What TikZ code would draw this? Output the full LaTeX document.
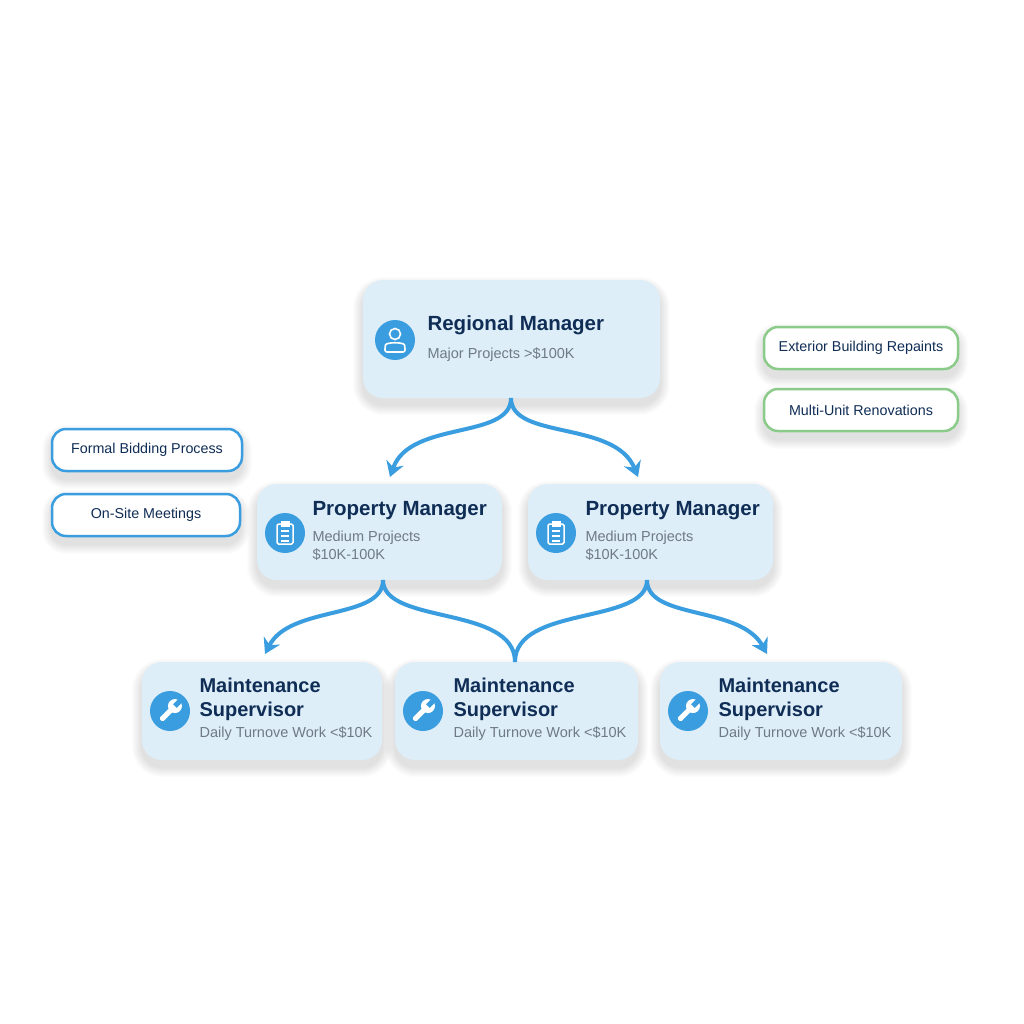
\documentclass[tikz,border=0pt]{standalone}
\usepackage{fontspec}
\setmainfont{Liberation Sans}
\usetikzlibrary{arrows.meta}
\definecolor{boxfill}{HTML}{DDEEF9}
\definecolor{navy}{HTML}{0F2D55}
\definecolor{subgray}{HTML}{6F7A86}
\definecolor{blu}{HTML}{3A9DDF}
\definecolor{grn}{HTML}{8ACB8A}
\newcommand\mysh[5]{% x1,y1,x2,y2,radius
 \foreach \i in {1,...,10}{
  \fill[black,opacity=0.012,rounded corners=#5+\i] (#1-\i,#2-\i+7) rectangle (#3+\i,#4+\i+7);
 }}
\begin{document}
\begin{tikzpicture}[x=1pt,y=-1pt,
 box/.style={fill=boxfill,rounded corners=20pt},
 ttl/.style={anchor=west,text=navy,font=\bfseries\fontsize{20.5}{23}\selectfont,align=left},
 sub/.style={anchor=west,text=subgray,font=\fontsize{14.5}{18}\selectfont,align=left},
 ico/.style={circle,fill=blu,minimum size=40pt,inner sep=0pt},
 arr/.style={draw=blu,line width=4pt,-{Stealth[length=15pt,width=18pt]}},
 lin/.style={draw=blu,line width=4pt},
 pill/.style={rounded corners=14pt,fill=white,line width=2.5pt,minimum height=42pt,font=\fontsize{14.3}{16}\selectfont,text=navy}]
\useasboundingbox[fill=white] (0,0) rectangle (1024,1024);
% shadows
\mysh{363}{280}{660}{398}{20}
\mysh{257}{484}{502}{580}{20}
\mysh{528}{484}{773}{580}{20}
\mysh{142}{662}{382}{760}{20}
\mysh{395}{662}{638}{760}{20}
\mysh{660}{662}{902}{760}{20}
\mysh{52}{428}{242}{472}{14}
\mysh{52}{493}{240}{537}{14}
\mysh{764}{326}{958}{370}{14}
\mysh{764}{389}{958}{432}{14}
% boxes
\path[box] (363,280) rectangle (660,398);
\path[box] (257,484) rectangle (502,580);
\path[box] (528,484) rectangle (773,580);
\path[box] (142,662) rectangle (382,760);
\path[box] (395,662) rectangle (638,760);
\path[box] (660,662) rectangle (902,760);
\coordinate (rmb) at (511,398);
\coordinate (pm1b) at (383,580);
\coordinate (pm2b) at (647,580);
\coordinate (pm1l) at (390,477);
\coordinate (pm1r) at (638,477);
\coordinate (ms1t) at (265,654);
\coordinate (ms2t) at (515,662);
\coordinate (ms3t) at (767,654);
% connectors
\draw[arr] (rmb) .. controls (511,440) and (410,420) .. (pm1l);
\draw[arr] (rmb) .. controls (511,440) and (615,420) .. (pm1r);
\draw[arr] (pm1b) .. controls (383,620) and (290,605) .. (ms1t);
\draw[lin] (pm1b) .. controls (383,625) and (515,605) .. (ms2t);
\draw[lin] (pm2b) .. controls (647,625) and (515,605) .. (ms2t);
\draw[arr] (pm2b) .. controls (647,620) and (740,605) .. (ms3t);
% icons
\node[ico] (i1) at (395,340) {};
\draw[white,line width=1.6pt] (395,334) circle (5.5pt);
\draw[white,line width=1.6pt,rounded corners=2pt] (385,352) -- (385,347) .. controls (386,342) and (404,342) .. (405,347) -- (405,352) -- cycle;
\foreach \n/\x in {i2/285,i3/556}{
 \node[ico] (\n) at (\x,533) {};
 \draw[white,line width=1.5pt,rounded corners=1.5pt] (\x-8,524) rectangle (\x+8,544);
 \draw[white,fill=white] (\x-4,521) rectangle (\x+4,526);
 \foreach \yy in {531,536,541} \draw[white,line width=1.2pt] (\x-4,\yy) -- (\x+4,\yy);
}
\foreach \n/\x in {i4/170,i5/423,i6/688}{
 \node[ico] (\n) at (\x,711) {};
 \begin{scope}[shift={(\x,711)},rotate=-45]
  \fill[white,rounded corners=1.5pt] (-2.5,-2) rectangle (2.5,13);
  \fill[white] (0,-7) circle (7pt);
  \fill[blu] (-2.5,-15) rectangle (2.5,-7);
 \end{scope}
}
% texts
\node[ttl] (t1) at (424,325) {Regional Manager};
\node[sub] (s1) at (424,355) {Major Projects >\$100K};
\node[ttl] (t2) at (309,511) {Property Manager};
\node[sub] (s2) at (309,546) {Medium Projects\\\$10K-100K};
\node[ttl] (t3) at (582,511) {Property Manager};
\node[sub] (s3) at (582,546) {Medium Projects\\\$10K-100K};
\foreach \n/\x in {a/196,b/450,c/715}{
 \node[ttl,font=\bfseries\fontsize{20}{24}\selectfont] (m\n) at (\x,699) {Maintenance\\Supervisor};
 \node[sub] (d\n) at (\x,734) {Daily Turnove Work <\$10K};
}
% pills
\node[pill,draw=blu,minimum width=190pt] (p1) at (147,450) {Formal Bidding Process};
\node[pill,draw=blu,minimum width=188pt] (p2) at (146,515) {On-Site Meetings};
\node[pill,draw=grn,minimum width=194pt] (p3) at (861,348) {Exterior Building Repaints};
\node[pill,draw=grn,minimum width=194pt] (p4) at (861,410) {Multi-Unit Renovations};
\end{tikzpicture}
\end{document}
